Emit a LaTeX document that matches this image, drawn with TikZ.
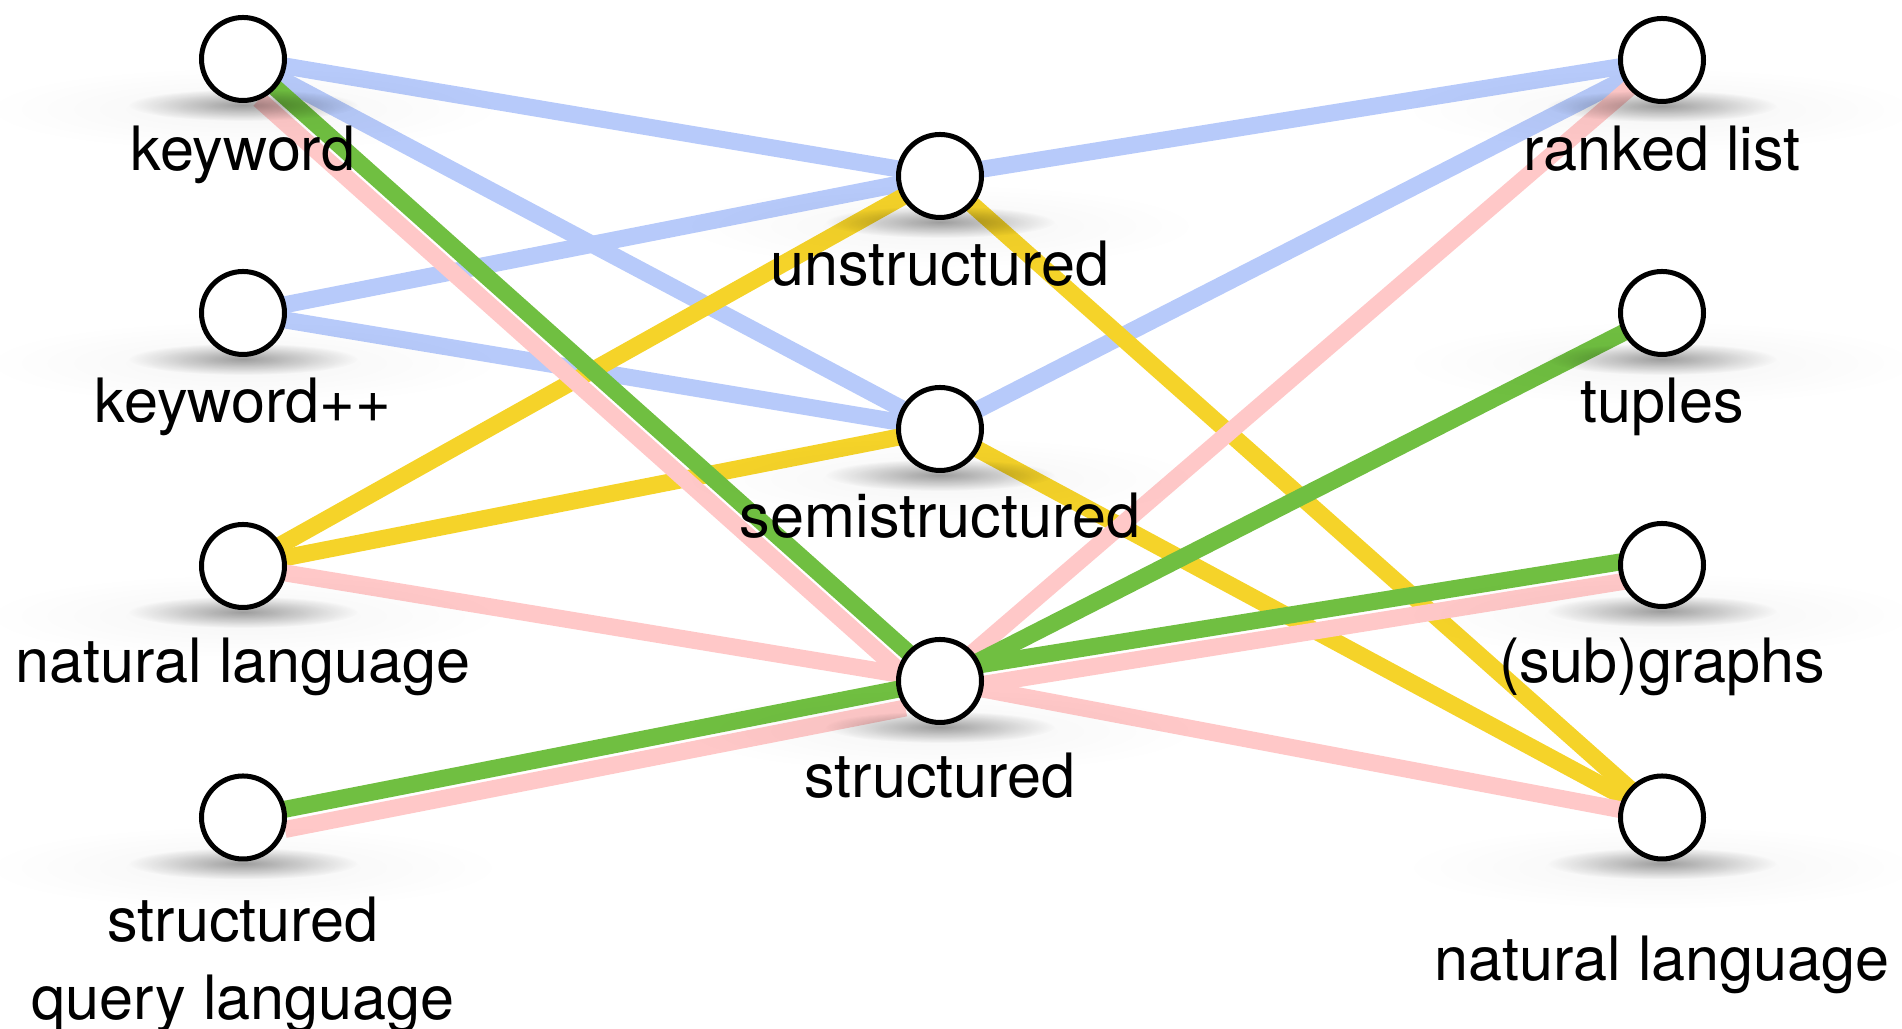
\documentclass[tikz,border=0pt]{standalone}
\usepackage{fontspec}
\setmainfont{TeX Gyre Heros}
\usetikzlibrary{calc, fadings}
\pgfdeclarelayer{edges}
\pgfdeclarelayer{shade}
\pgfsetlayers{edges,shade,main}
\definecolor{qblue}{RGB}{183,202,250}
\definecolor{qyellow}{RGB}{245,211,41}
\definecolor{qpink}{RGB}{255,200,200}
\definecolor{qgreen}{RGB}{112,191,65}
\tikzfading[name=softout, inner color=transparent!0, outer color=transparent!100]

\begin{document}
\begin{tikzpicture}[
    dot/.style={circle, draw, line width=0.05cm, fill=white, minimum size=0.83cm, inner sep=0pt},
    link/.style={line width=0.17cm, shorten <=-0.05cm, shorten >=-0.05cm},
    every label/.style={font={\fontsize{17.4pt}{22.2pt}\selectfont}, text height=0.44cm, inner sep=0pt, align=center}]
    \useasboundingbox (0,0) rectangle (19.02,10.29);
    % query side
    \node [dot, label={[label distance=0.23cm]below:keyword}] (kw) at (2.43,9.70) {};
    \node [dot, label={[label distance=0.21cm]below:keyword++}] (kwpp) at (2.43,7.16) {};
    \node [dot, label={[label distance=0.28cm]below:natural language}] (nl) at (2.43,4.63) {};
    \node [dot, label={[label distance=0.35cm, text height=]below:structured\\query language}] (sql) at (2.43,2.115) {};
    % data
    \node [dot, label={[label distance=0.21cm]below:unstructured}] (unst) at (9.40,8.53) {};
    \node [dot, label={[label distance=0.20cm]below:semistructured}] (semi) at (9.40,6.00) {};
    \node [dot, label={[label distance=0.28cm]below:structured}] (str) at (9.40,3.48) {};
    % answers
    \node [dot, label={[label distance=0.22cm]below:ranked list}] (rank) at (16.62,9.69) {};
    \node [dot, label={[label distance=0.21cm]below:tuples}] (tup) at (16.62,7.16) {};
    \node [dot, label={[label distance=0.29cm]below:(sub)graphs}] (sub) at (16.62,4.64) {};
    \node [dot, label={[label distance=0.74cm]below:natural language}] (nlo) at (16.62,2.115) {};

    \begin{pgfonlayer}{edges}
        \draw [link, qblue] (kw) -- (unst);
        \draw [link, qblue] (kw) -- (semi);
        \draw [link, qblue] (kwpp) -- (unst);
        \draw [link, qblue] (kwpp) -- (semi);
        \draw [link, qblue] (unst) -- (rank);
        \draw [link, qblue] (semi) -- (rank);
        \draw [link, qyellow] (nl) -- (unst);
        \draw [link, qyellow] (nl) -- (semi);
        \draw [link, qyellow] (unst) -- (nlo);
        \draw [link, qyellow] (semi) -- (nlo);
        \draw [link, qpink, transform canvas={shift={(-0.13,-0.145)}}] (kw) -- (str);
        \draw [link, qpink] (nl) -- (str);
        \draw [link, qpink, transform canvas={shift={(0.037,-0.195)}}] (sql) -- (str);
        \draw [link, qpink] (str) -- (rank);
        \draw [link, qpink, transform canvas={shift={(0.016,-0.1)}}] (str) -- (sub);
        \draw [link, qpink] (str) -- (nlo);
        \draw [link, qgreen] (kw) -- (str);
        \draw [link, qgreen] (sql) -- (str);
        \draw [link, qgreen] (str) -- (tup);
        \draw [link, qgreen, transform canvas={shift={(-0.015,0.095)}}] (str) -- (sub);
    \end{pgfonlayer}

    % soft shadows under the dots
    \begin{pgfonlayer}{shade}
        \foreach \n in {kw,kwpp,nl,sql,unst,semi,str,rank,tup,sub,nlo} {
            \fill [black, opacity=0.04, path fading=softout] ($(\n.south)+(0,-0.06)$) ellipse (2.6 and 0.42);
            \fill [black, opacity=0.36, path fading=softout] ($(\n.south)+(0,-0.02)$) ellipse (1.15 and 0.16);
        }
    \end{pgfonlayer}
\end{tikzpicture}
\end{document}
